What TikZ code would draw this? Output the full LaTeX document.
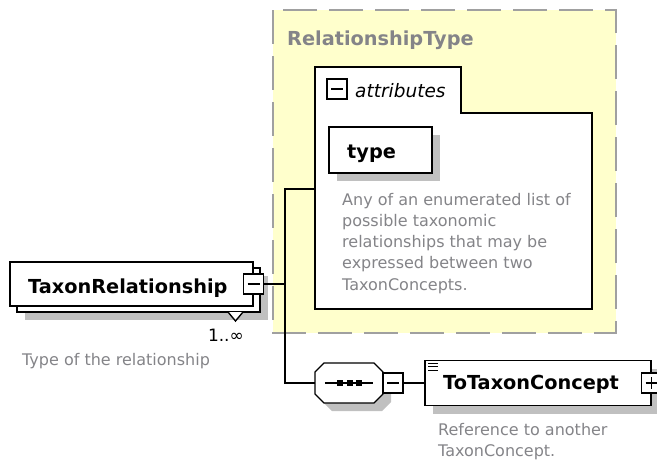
\documentclass[tikz,border=0pt]{standalone}
\usepackage{fontspec}
\setmainfont{DejaVu Sans}
\usetikzlibrary{shadows}
\definecolor{typefill}{RGB}{255,255,204}
\definecolor{typeline}{RGB}{160,160,160}
\definecolor{shadowgray}{RGB}{192,192,192}
\definecolor{doc}{RGB}{132,132,136}
\newcommand{\namefont}{\fontsize{19.3}{23}\selectfont\bfseries}
\newcommand{\docfont}{\fontsize{16}{21.2}\selectfont}
\newcommand{\attrfont}{\fontsize{18.5}{22}\selectfont\itshape}
\tikzset{
  elemline/.style={draw, line width=1.4pt},
  elem/.style={elemline, fill=white, inner sep=0pt},
  shady/.style={drop shadow={shadow xshift=8pt, shadow yshift=-8pt, fill=shadowgray, opacity=1}},
  typearea/.style={fill=typefill, draw=typeline, line width=2pt, dash pattern=on 34pt off 12pt},
  conn/.style={line width=1.4pt},
  name text/.style={font=\namefont, anchor=base west, inner sep=0pt},
  doc text/.style={font=\docfont, text=doc, anchor=north west, inner sep=0pt, align=left},
  toggle/.style={draw, fill=white, line width=1.2pt, minimum size=20pt, inner sep=0pt,
    path picture={\draw[line width=1.2pt] ([xshift=4pt]path picture bounding box.west)
      -- ([xshift=-4pt]path picture bounding box.east);}},
  plusbox/.style={draw, fill=white, line width=1.2pt, minimum size=20pt, inner sep=0pt,
    path picture={\draw[line width=1.2pt] ([xshift=4pt]path picture bounding box.west)
      -- ([xshift=-4pt]path picture bounding box.east)
      ([yshift=-4pt]path picture bounding box.north)
      -- ([yshift=4pt]path picture bounding box.south);}},
  seqbox/.style={minimum width=68pt, minimum height=40pt, inner sep=0pt}
}
\newcommand{\octapath}{(315,372) -- (324,363) -- (374,363) -- (383,372) -- (383,394)
  -- (374,403) -- (324,403) -- (315,394) -- cycle}

\begin{document}
\begin{tikzpicture}[x=1pt,y=-1pt]
  \useasboundingbox (0,0) rectangle (657,461);
  % complex type
  \draw[typearea] (273,10) rectangle (616,333);
  \node[name text, text=doc] (rtname) at (287,45) {RelationshipType};
  \draw[elemline, fill=white] (315,309) -- (315,67) -- (461,67) -- (461,113)
    -- (592,113) -- (592,309) -- cycle;
  \node[toggle] (attrm) at (337,89) {};
  \node[font=\attrfont, anchor=base west, inner sep=0pt] (attrtxt) at (355,97) {attributes};
  \node[elem, shady, minimum width=103pt, minimum height=46pt] (type) at (380.5,150) {};
  \node[name text] (typetxt) at (347,158) {type};
  \node[doc text] (typedoc) at (342,193) {Any of an enumerated list of\\possible taxonomic\\relationships that may be\\expressed between two\\TaxonConcepts.};
  \coordinate (attrin) at (315,189);
  % element
  \node[elem, shady, minimum width=243pt, minimum height=44pt] (trback) at (138.5,290) {};
  \node[elem, minimum width=243pt, minimum height=44pt] (tr) at (131.5,284) {};
  \node[name text] (trtxt) at (28,293) {TaxonRelationship};
  \node[toggle] (trm) at (tr.east) {};
  \draw[elemline, fill=white] (228,312) -- (235.5,321) -- (243,312);
  \node[font=\fontsize{17}{20}\selectfont, anchor=base east, inner sep=0pt] (occ) at (244,341) {1..∞};
  \node[doc text, anchor=base west] (trdoc) at (22,365) {Type of the relationship};
  % sequence
  \fill[shadowgray, shift={(8,8)}] \octapath;
  \draw[elemline, fill=white] \octapath;
  \node[seqbox] (seq) at (349,383) {};
  \draw[line width=1.2pt] ([xshift=10pt]seq.west) -- ([xshift=-10pt]seq.east);
  \foreach \x in {340,349.5,359}
    \fill (\x-3,380) rectangle (\x+3,386);
  \node[toggle] (seqm) at (393,383) {};
  \node[elem, shady, minimum width=226pt, minimum height=45pt] (tc) at (538,383) {};
  \node[name text] (tctxt) at (443,389) {ToTaxonConcept};
  \node[plusbox] (tcp) at (tc.east) {};
  \foreach \y in {363,366.5,370}
    \draw[line width=1pt] (428,\y) -- (438,\y);
  \node[doc text] (tcdoc) at (438,423) {Reference to another\\TaxonConcept.};
  % connectors
  \coordinate (fork) at (285,284);
  \draw[conn] (trm.east) -- (fork) |- (attrin);
  \draw[conn] (fork) |- (seq.west);
  \draw[conn] (seqm.east) -- (tc.west);
\end{tikzpicture}
\end{document}
